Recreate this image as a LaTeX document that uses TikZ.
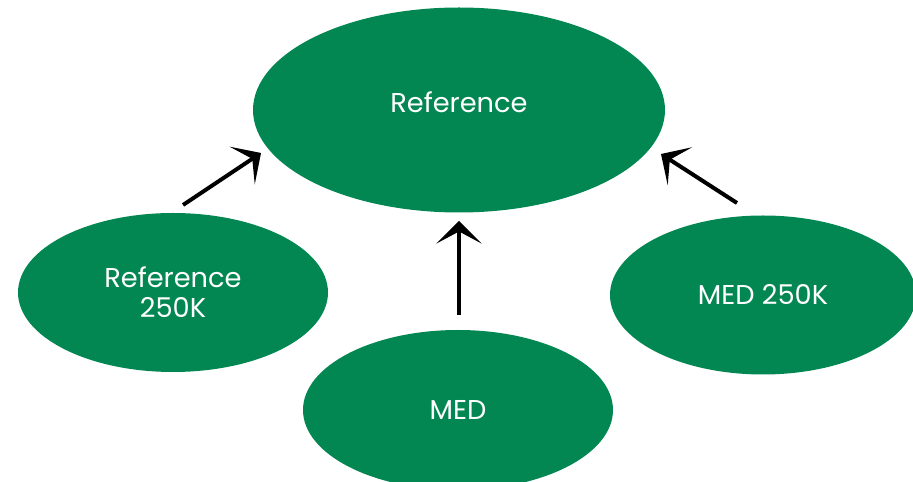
\documentclass[tikz,border=0pt]{standalone}
\usepackage{fontspec}
\setmainfont{Poppins}
\usetikzlibrary{arrows.meta,shapes.geometric}
\definecolor{medgreen}{HTML}{038752}
\tikzset{
	bubble/.style={ellipse, fill=medgreen, text=white, inner sep=0pt, align=center, font=\fontsize{15.5}{17}\selectfont},
	arrowline/.style={line width=0.08cm, -{Stealth[length=0.45cm, width=0.9cm, inset=0.24cm]}}
}

\begin{document}
\begin{tikzpicture}
		%%%%% START %%%%%
		\useasboundingbox (0, 0) rectangle (18.26, 9.64);
		\clip (0, 0) rectangle (18.26, 9.64);
		
		\node[bubble, minimum width=8.24cm, minimum height=4.1cm, text depth=0.3cm] (ref) at (9.18, 7.44) {Reference};
		\node[bubble, minimum width=6.2cm, minimum height=3.18cm] (ref250) at (3.46, 3.79) {Reference\\250K};
		\node[bubble, minimum width=6.2cm, minimum height=3.2cm] (med) at (9.16, 1.44) {MED};
		\node[bubble, minimum width=6.12cm, minimum height=3.18cm] (med250) at (15.26, 3.74) {MED 250K};
		
		\coordinate (a1) at (3.66, 5.54);
		\coordinate (b1) at (5.22, 6.58);
		\coordinate (a2) at (9.18, 3.34);
		\coordinate (b2) at (9.18, 5.22);
		\coordinate (a3) at (14.74, 5.58);
		\coordinate (b3) at (13.22, 6.56);
		
		\draw[arrowline] (a1) -- (b1);
		\draw[arrowline] (a2) -- (b2);
		\draw[arrowline] (a3) -- (b3);
		
		%%%%% END %%%%%
	\end{tikzpicture}
\end{document}
